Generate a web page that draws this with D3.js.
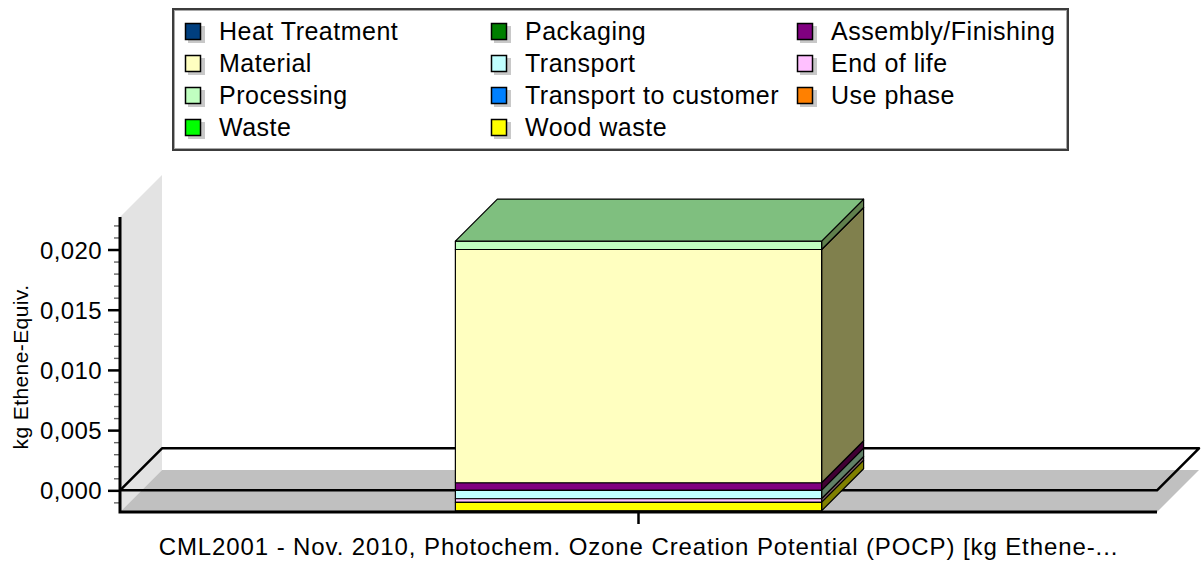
<!DOCTYPE html>
<html>
<head>
<meta charset="utf-8">
<script src="https://cdn.jsdelivr.net/npm/d3@7"></script>
<style>
    body { margin: 0; background: #fff; }
    svg text { font-family: "Liberation Sans", Arial, sans-serif; fill: #000; }
</style>
</head>
<body>
<div id="chart"></div>
<script>
// Series in legend order (row by row), this is also the stacking order
const seriesNames = ['Heat Treatment', 'Packaging', 'Assembly/Finishing',
    'Material', 'Transport', 'End of life',
    'Processing', 'Transport to customer', 'Use phase',
    'Waste', 'Wood waste'];
const seriesColors = ['#003f7f', '#007f00', '#800080',
    '#ffffc0', '#c0ffff', '#ffc0ff',
    '#c0ffc0', '#0080ff', '#ff8000',
    '#00ff00', '#ffff00'];
const categories = ['CML2001 - Nov. 2010, Photochem. Ozone Creation Potential (POCP) [kg Ethene-...'];
// kg Ethene-Equiv. per series for the single category
const seriesValues = [0, 0, 0.00063,
    0.01937, -0.0007, -0.0003,
    0.0007, 0, 0,
    0, -0.0007];
const yDomain = [-0.0018, 0.0227];
const yMajorTicks = [0, 0.005, 0.010, 0.015, 0.020];
const yMinorTicks = d3.range(-1, 23).filter(i => i % 5 !== 0).map(i => i / 1000);
const yLabel = 'kg Ethene-Equiv.';

class Bar3DChart {

    svg; walls; plane; bars; axes; legend;
    scaleX; scaleY; colorScale;
    width = 1201; height = 563;
    depth = 42;
    plot = { left: 120, right: 1157, top: 217, bottom: 512 };

    constructor(container) {
        this.svg = d3.select(container).append('svg')
            .attr('width', this.width)
            .attr('height', this.height);

        this.walls = this.svg.append('g');
        this.plane = this.svg.append('g');
        this.bars = this.svg.append('g');
        this.axes = this.svg.append('g');
        this.legend = this.svg.append('g');

        this.colorScale = d3.scaleOrdinal(seriesNames, seriesColors);
    }

    #poly(pts) {
        return pts.map(p => p.join(',')).join(' ');
    }

    #updateScales() {
        this.scaleX = d3.scaleBand(categories, [this.plot.left, this.plot.right]).padding(0.478);
        this.scaleY = d3.scaleLinear(yDomain, [this.plot.bottom, this.plot.top]);
    }

    // Left wall, floor and the outline of the zero plane
    #drawWalls() {
        const { left: L, right: R, top: T, bottom: B } = this.plot, d = this.depth;

        this.walls.append('polygon')
            .attr('points', this.#poly([[L, T], [L + d, T - d], [L + d, B - d], [L, B]]))
            .attr('fill', '#e3e3e3');

        this.walls.append('polygon')
            .attr('points', this.#poly([[L, B], [L + d, B - d], [R + d, B - d], [R, B]]))
            .attr('fill', '#c0c0c0');

        const y0 = this.scaleY(0);
        this.plane.append('polygon')
            .attr('points', this.#poly([[L, y0], [L + d, y0 - d], [R + d, y0 - d], [R, y0]]))
            .attr('fill', 'none')
            .attr('stroke', '#000')
            .attr('stroke-width', 2.5)
            .attr('stroke-linejoin', 'round');
    }

    #drawBars(rows) {
        const d = this.depth;
        const stack = d3.stack().keys(seriesNames).offset(d3.stackOffsetDiverging)(rows);
        // darker faces for the 3D look
        const side = c => { const r = d3.rgb(c); return d3.rgb(r.r * 0.5, r.g * 0.5, r.b * 0.4); };
        const top = c => { const r = d3.rgb(c); return d3.rgb(r.r * 0.66, r.g * 0.75, r.b * 0.66); };

        const segments = [];
        stack.forEach(s => s.forEach(v => {
            if (v[0] === v[1]) return;
            segments.push({
                key: s.key,
                cat: v.data.category,
                lo: Math.min(v[0], v[1]),
                hi: Math.max(v[0], v[1])
            });
        }));
        const maxHi = d3.max(segments, s => s.hi);

        segments.forEach(s => {
            const x0 = this.scaleX(s.cat), x1 = x0 + this.scaleX.bandwidth();
            const yt = this.scaleY(s.hi), yb = this.scaleY(s.lo);
            const color = this.colorScale(s.key);
            const g = this.bars.append('g')
                .attr('stroke', '#000')
                .attr('stroke-width', 1.2)
                .attr('stroke-linejoin', 'round');

            g.append('polygon')
                .attr('points', this.#poly([[x1, yt], [x1 + d, yt - d], [x1 + d, yb - d], [x1, yb]]))
                .attr('fill', side(color));

            g.append('rect')
                .attr('x', x0).attr('y', yt)
                .attr('width', x1 - x0).attr('height', yb - yt)
                .attr('fill', color);

            if (s.hi === maxHi) {
                g.append('polygon')
                    .attr('points', this.#poly([[x0, yt], [x0 + d, yt - d], [x1 + d, yt - d], [x1, yt]]))
                    .attr('fill', top(color));
            }
        });
    }

    #drawAxes() {
        const { left: L, right: R, top: T, bottom: B } = this.plot;
        const fmt = v => d3.format('.3f')(v).replace('.', ',');

        const minor = this.axes.append('g')
            .attr('transform', `translate(${L},0)`)
            .call(d3.axisLeft(this.scaleY).tickValues(yMinorTicks).tickSize(6).tickFormat(''));
        minor.select('.domain').remove();
        minor.selectAll('line').attr('stroke', '#666').attr('stroke-width', 1.4);

        const major = this.axes.append('g')
            .attr('transform', `translate(${L},0)`)
            .call(d3.axisLeft(this.scaleY).tickValues(yMajorTicks).tickSize(12).tickPadding(6).tickFormat(fmt));
        major.select('.domain').remove();
        major.selectAll('line').attr('stroke', '#000').attr('stroke-width', 2.5);
        major.selectAll('text')
            .style('font-size', '24px')
            .style('letter-spacing', '0.4px')
            .attr('fill', '#000')
            .attr('dy', '0.36em');

        const axisX = this.axes.append('g')
            .attr('transform', `translate(0,${B})`)
            .call(d3.axisBottom(this.scaleX).tickSize(12).tickPadding(14));
        axisX.select('.domain').remove();
        axisX.selectAll('line').attr('stroke', '#000').attr('stroke-width', 2.5);
        axisX.selectAll('text')
            .style('font-size', '24px')
            .style('letter-spacing', '0.9px')
            .attr('fill', '#000')
            .attr('dy', '0.71em');

        // Axis lines on the front edges
        this.axes.append('path')
            .attr('d', `M${L},${T}V${B}H${R}`)
            .attr('fill', 'none')
            .attr('stroke', '#000')
            .attr('stroke-width', 3);

        this.axes.append('text')
            .attr('transform', `translate(28,367) rotate(-90)`)
            .attr('text-anchor', 'middle')
            .style('font-size', '21px')
            .style('letter-spacing', '0.4px')
            .text(yLabel);
    }

    #drawLegend() {
        const box = { x: 172, y: 8, w: 897, h: 143 };
        this.legend.append('rect')
            .attr('x', box.x + 1).attr('y', box.y + 1)
            .attr('width', box.w - 2).attr('height', box.h - 2)
            .attr('fill', '#fff')
            .attr('stroke', '#3c3c3c')
            .attr('stroke-width', 2);
        this.legend.append('rect')
            .attr('x', box.x + 2.5).attr('y', box.y + 2.5)
            .attr('width', box.w - 5).attr('height', box.h - 5)
            .attr('fill', 'none')
            .attr('stroke', '#a8a8a8')
            .attr('stroke-width', 1);

        const items = this.legend.selectAll('g.item')
            .data(seriesNames)
            .join('g')
            .classed('item', true)
            .attr('transform', (d, i) => `translate(${185 + (i % 3) * 306},${23 + Math.floor(i / 3) * 32})`);

        items.append('rect')
            .attr('x', 3).attr('y', 3)
            .attr('width', 17).attr('height', 17)
            .attr('fill', '#c8c8c8');
        items.append('rect')
            .attr('x', 0.5).attr('y', 0.5)
            .attr('width', 15).attr('height', 16)
            .attr('fill', d => this.colorScale(d))
            .attr('stroke', '#000')
            .attr('stroke-width', 1.5);
        items.append('text')
            .attr('x', 34).attr('y', 17)
            .style('font-size', '25px')
            .style('letter-spacing', '0.5px')
            .text(d => d);
    }

    render(rows) {
        this.#updateScales();
        this.#drawWalls();
        this.#drawBars(rows);
        this.#drawAxes();
        this.#drawLegend();
        return this;
    }
}

const rows = categories.map(c => {
    const row = { category: c };
    seriesNames.forEach((k, i) => row[k] = seriesValues[i]);
    return row;
});

new Bar3DChart('#chart').render(rows);
</script>
</body>
</html>
